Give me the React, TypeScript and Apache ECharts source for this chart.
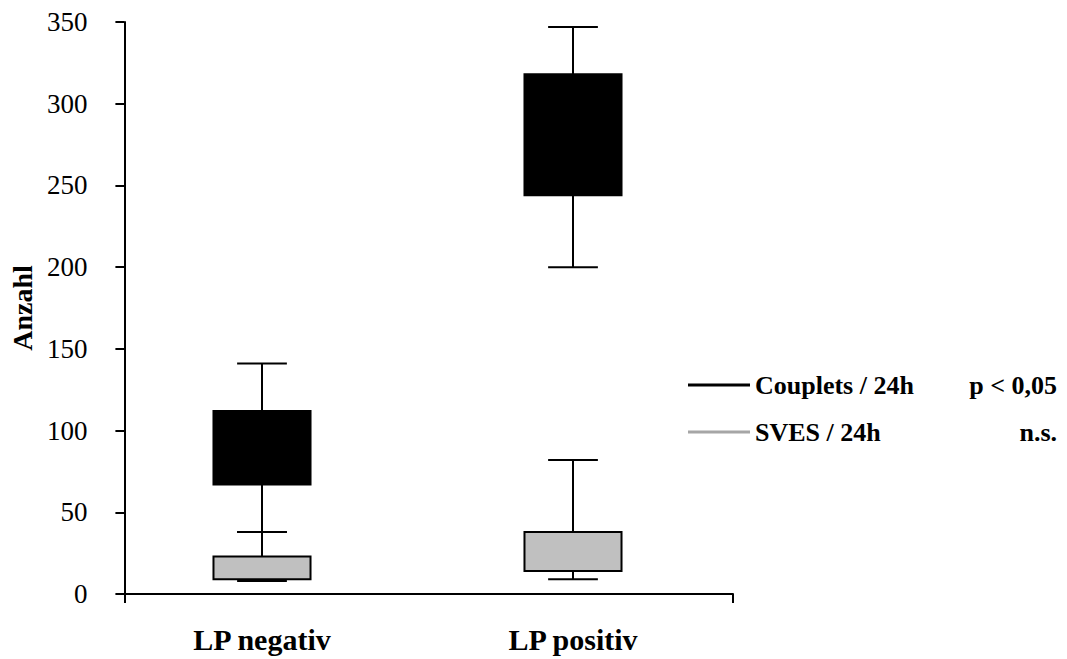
import React, { useEffect, useRef } from "react";
import * as echarts from "echarts";

const categories = ["LP negativ", "LP positiv"];
const yTicks = { min: 0, max: 350, interval: 50 };

// Couplets / 24h  (min, q1, q3, max)
const coupletsMin = [38, 200];
const coupletsQ1 = [67, 244];
const coupletsQ3 = [112, 318];
const coupletsMax = [141, 347];

// SVES / 24h
const svesMin = [8, 9];
const svesQ1 = [9, 14];
const svesQ3 = [23, 38];
const svesMax = [38, 82];

const legendItems = [
  { name: "Couplets / 24h", stat: "p < 0,05", color: "#000000" },
  { name: "SVES / 24h", stat: "n.s.", color: "#a6a6a6" },
];

const FONT = "'Liberation Serif', 'Times New Roman', serif";

function buildData(mins: number[], q1: number[], q3: number[], maxs: number[]) {
  return categories.map((_, i) => [i, mins[i], q1[i], q3[i], maxs[i]]);
}

function makeRenderItem(fill: string, stroke: string) {
  return (params: any, api: any) => {
    const x = api.value(0);
    const pMin = api.coord([x, api.value(1)]);
    const pQ1 = api.coord([x, api.value(2)]);
    const pQ3 = api.coord([x, api.value(3)]);
    const pMax = api.coord([x, api.value(4)]);
    const bandW = api.size([1, 0])[0];
    const bw = bandW * 0.312;
    const cw = bandW * 0.16;
    const cx = pMin[0];
    const lineStyle = { stroke: "#000", lineWidth: 2 };
    return {
      type: "group",
      children: [
        { type: "line", shape: { x1: cx, y1: pMin[1], x2: cx, y2: pMax[1] }, style: lineStyle },
        { type: "line", shape: { x1: cx - cw / 2, y1: pMax[1], x2: cx + cw / 2, y2: pMax[1] }, style: lineStyle },
        { type: "line", shape: { x1: cx - cw / 2, y1: pMin[1], x2: cx + cw / 2, y2: pMin[1] }, style: lineStyle },
        {
          type: "rect",
          shape: { x: cx - bw / 2, y: pQ3[1], width: bw, height: pQ1[1] - pQ3[1] },
          style: { fill, stroke, lineWidth: 2 },
        },
      ],
    };
  };
}

export default function App() {
  const ref = useRef<HTMLDivElement>(null);
  useEffect(() => {
    document.body.style.margin = "0";
    if (!ref.current) return;
    const chart = echarts.init(ref.current, null, { renderer: "svg" });
    const graphics: any[] = [];
    legendItems.forEach((it, i) => {
      const y = 385 + i * 47;
      graphics.push({
        type: "line",
        shape: { x1: 688, y1: y, x2: 750, y2: y },
        style: { stroke: it.color, lineWidth: 3 },
      });
      graphics.push({
        type: "text",
        x: 755,
        y,
        style: {
          text: it.name,
          font: `bold 26px ${FONT}`,
          fill: "#000",
          verticalAlign: "middle",
          align: "left",
        },
      });
      graphics.push({
        type: "text",
        x: 1057,
        y,
        style: {
          text: it.stat,
          font: `bold 26px ${FONT}`,
          fill: "#000",
          verticalAlign: "middle",
          align: "right",
        },
      });
    });

    chart.setOption({
      animation: false,
      backgroundColor: "#ffffff",
      grid: [
        { left: 115, top: 22, width: 618, height: 572 },
        { left: 106.5, top: 22, width: 622, height: 572 },
      ],
      xAxis: [
        {
          gridIndex: 0,
          type: "value",
          min: 0,
          max: 1,
          interval: 1,
          axisLine: { show: true, lineStyle: { color: "#000", width: 2 } },
          axisTick: { show: true, length: 9, lineStyle: { color: "#000", width: 2 } },
          axisLabel: { show: false },
          splitLine: { show: false },
        },
        {
          gridIndex: 1,
          type: "category",
          data: categories,
          boundaryGap: true,
          axisLine: { show: false },
          axisTick: { show: false },
          axisLabel: {
            margin: 30,
            fontFamily: FONT,
            fontWeight: "bold",
            fontSize: 30,
            color: "#000",
          },
        },
      ],
      yAxis: [
        {
          gridIndex: 0,
          type: "value",
          min: yTicks.min,
          max: yTicks.max,
          interval: yTicks.interval,
          name: "Anzahl",
          nameLocation: "middle",
          nameGap: 88,
          nameTextStyle: { fontFamily: FONT, fontWeight: "bold", fontSize: 28, color: "#000" },
          axisLine: { show: true, lineStyle: { color: "#000", width: 2 } },
          axisTick: { show: true, length: 9, lineStyle: { color: "#000", width: 2 } },
          axisLabel: { margin: 37, fontFamily: FONT, fontSize: 27, color: "#000" },
          splitLine: { show: false },
        },
        {
          gridIndex: 1,
          type: "value",
          min: yTicks.min,
          max: yTicks.max,
          show: false,
          splitLine: { show: false },
        },
      ],
      series: [
        {
          name: "Couplets / 24h",
          type: "custom",
          xAxisIndex: 1,
          yAxisIndex: 1,
          renderItem: makeRenderItem("#000000", "#000000"),
          data: buildData(coupletsMin, coupletsQ1, coupletsQ3, coupletsMax),
        },
        {
          name: "SVES / 24h",
          type: "custom",
          xAxisIndex: 1,
          yAxisIndex: 1,
          renderItem: makeRenderItem("#c0c0c0", "#000000"),
          data: buildData(svesMin, svesQ1, svesQ3, svesMax),
        },
      ],
      graphic: graphics,
    });
    return () => chart.dispose();
  }, []);
  return <div ref={ref} style={{ width: 1067, height: 659 }} />;
}
